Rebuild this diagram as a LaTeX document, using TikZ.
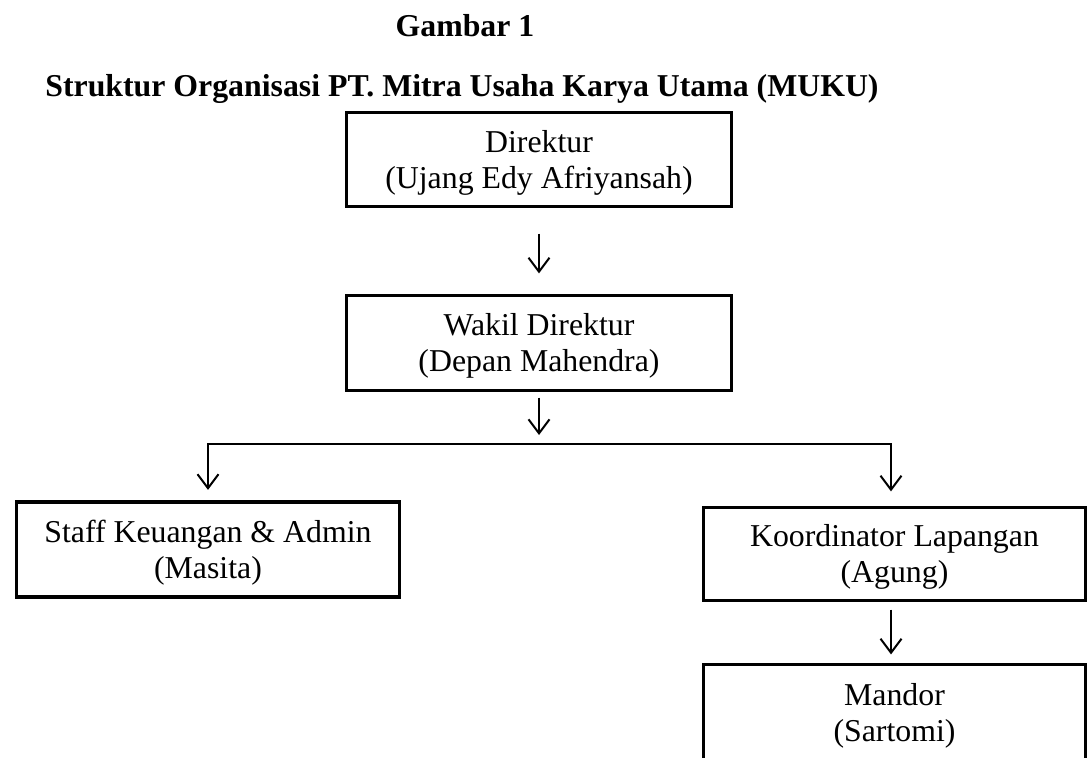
\documentclass[tikz,border=0pt]{standalone}
\usepackage{fontspec}
\setmainfont{Liberation Serif}
\usetikzlibrary{arrows.meta}
\newcommand\twolines[2]{\rule{0pt}{28pt}#1\\#2\rule[-7pt]{0pt}{7pt}}
\begin{document}
\begin{tikzpicture}[x=1pt,y=-1pt,
  box/.style={draw, line width=3.2pt, align=center, inner sep=0pt,
    font=\fontsize{31.8}{36}\selectfont},
  conn/.style={line width=2pt},
  arr/.style={conn, -{Straight Barb[length=14pt,width=21pt]}},
  ttl/.style={font=\fontsize{31.8}{36}\selectfont\bfseries, anchor=base, inner sep=0pt}]
\useasboundingbox (0,0) rectangle (1088,758);
\clip (0,0) rectangle (1088,758);
\node[ttl] (gam) at (465,36) {Gambar 1};
\node[ttl] (tit) at (462,96) {Struktur Organisasi PT. Mitra Usaha Karya Utama (MUKU)};
\node[box, minimum width=385pt, minimum height=94pt] (dir) at (539,159.5)
  {\twolines{Direktur}{(Ujang Edy Afriyansah)}};
\node[box, minimum width=385pt, minimum height=95pt] (wak) at (539,343)
  {\twolines{Wakil Direktur}{(Depan Mahendra)}};
\node[box, minimum width=383pt, minimum height=95pt] (sta) at (208,549.5)
  {\twolines{Staff Keuangan \& Admin}{(Masita)}};
\node[box, minimum width=382pt, minimum height=93pt] (koo) at (894.5,554)
  {\twolines{Koordinator Lapangan}{(Agung)}};
\node[box, minimum width=382pt, minimum height=97pt] (man) at (894.5,713)
  {\twolines{Mandor}{(Sartomi)}};
\coordinate (bus) at (539,444);
\coordinate (rb) at (891,444);
\draw[arr, shorten <=25.5pt, shorten >=20.5pt] (dir) -- (wak);
\draw[arr, shorten <=5.5pt, shorten >=9pt] (wak) -- (bus);
\draw[arr, shorten >=10.5pt] (bus) -| (sta.north);
\draw[arr, shorten >=14.5pt] (bus) -| (rb |- koo.north);
\draw[arr, shorten <=7.5pt, shorten >=8.5pt] (koo.south -| rb) -- (man.north -| rb);
\end{tikzpicture}
\end{document}
